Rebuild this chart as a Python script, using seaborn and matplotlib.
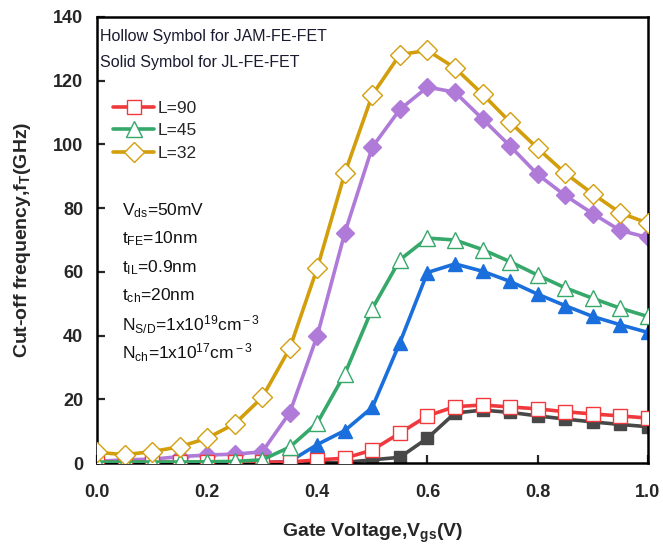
import numpy as np
import pandas as pd
import matplotlib
matplotlib.use("Agg")
import matplotlib.pyplot as plt
import seaborn as sns

sns.set_style("ticks")
plt.rcParams['font.family'] = ['Liberation Sans', 'DejaVu Sans']
plt.rcParams['mathtext.fontset'] = 'custom'
plt.rcParams['mathtext.rm'] = 'Liberation Sans'
plt.rcParams['mathtext.it'] = 'Liberation Sans'
plt.rcParams['mathtext.bf'] = 'Liberation Sans:bold'

vgs = [0.0, 0.05, 0.1, 0.15, 0.2, 0.25, 0.3, 0.35, 0.4, 0.45, 0.5,
       0.55, 0.6, 0.65, 0.7, 0.75, 0.8, 0.85, 0.9, 0.95, 1.0]

jam_90 = [0.3, 0.3, 0.3, 0.3, 0.3, 0.3, 0.3, 0.3, 1.0, 1.5, 4.1,
          9.4, 14.8, 17.7, 18.2, 17.6, 17.0, 16.1, 15.4, 14.8, 14.1]
jl_90 = [0.0, 0.0, 0.0, 0.0, 0.0, 0.0, 0.0, 0.0, 0.0, 0.2, 1.0,
         1.8, 7.8, 15.7, 16.6, 15.9, 14.8, 13.8, 12.9, 12.1, 11.4]
jam_45 = [0.3, 0.3, 0.3, 0.3, 0.4, 0.5, 1.0, 5.0, 12.6, 28.0, 48.5,
          63.8, 70.6, 70.0, 67.0, 63.2, 59.0, 55.0, 51.7, 48.6, 46.0]
jl_45 = [0.0, 0.0, 0.0, 0.0, 0.0, 0.0, 0.1, 0.5, 5.8, 10.2, 17.5,
         37.8, 59.8, 62.5, 60.2, 57.0, 53.0, 49.4, 46.0, 43.4, 41.0]
jam_32 = [3.4, 2.6, 3.6, 5.1, 7.8, 12.3, 20.6, 36.0, 61.2, 91.0, 115.6,
          128.2, 129.5, 124.0, 115.8, 107.0, 98.8, 91.0, 84.5, 78.5, 75.3]
jl_32 = [0.5, 1.0, 1.2, 2.0, 2.5, 2.8, 3.5, 15.8, 40.0, 72.3, 99.2,
         111.0, 118.0, 116.4, 108.0, 99.5, 90.6, 84.0, 78.3, 73.0, 70.8]

labels_L = ["L=90", "L=45", "L=32"]

c_red = "#f0393c"
c_green = "#35a86a"
c_gold = "#d39e0c"
c_purple = "#b07ad9"
c_blue = "#1a6fdc"
c_grey = "#484848"

fig = plt.figure(figsize=(6.63, 5.59), dpi=100)
ax = fig.add_axes([0.1463, 0.1717, 0.977 - 0.1463, 0.9696 - 0.1717])

lw = 2.6

def draw(y, color, marker, ms, hollow, label=None, z=2):
    df = pd.DataFrame({"x": vgs, "y": y})
    kw = dict(color=color, marker=marker, markersize=ms, linewidth=lw,
              markeredgecolor=color, zorder=z)
    if hollow:
        kw.update(markerfacecolor="white", markeredgewidth=1.0)
    else:
        kw.update(markerfacecolor=color, markeredgewidth=1.0)
    sns.lineplot(data=df, x="x", y="y", ax=ax, label=label, legend=False, **kw)

# solid (JL)
draw(jl_90, c_grey, "s", 9, False, z=2)
draw(jl_45, c_blue, "^", 10, False, z=2)
draw(jl_32, c_purple, "D", 9, False, z=2)
# hollow (JAM)
draw(jam_90, c_red, "s", 10, True, label=labels_L[0], z=3)
draw(jam_45, c_green, "^", 11, True, label=labels_L[1], z=3)
draw(jam_32, c_gold, "D", 10, True, label=labels_L[2], z=3)

ax.set_xlim(0, 1.0)
ax.set_ylim(0, 140)
ax.set_xticks([0.0, 0.2, 0.4, 0.6, 0.8, 1.0])
ax.set_yticks([0, 20, 40, 60, 80, 100, 120, 140])
ax.set_xticklabels(["0.0", "0.2", "0.4", "0.6", "0.8", "1.0"])
ax.tick_params(axis="both", direction="in", length=6, width=1.6,
               labelsize=13, top=False, right=False)
ax.tick_params(axis="x", pad=15)
ax.tick_params(axis="y", pad=10)
for lab in ax.get_xticklabels() + ax.get_yticklabels():
    lab.set_fontweight("bold")
for sp in ax.spines.values():
    sp.set_linewidth(1.8)
    sp.set_color("black")
    sp.set_visible(True)

ax.set_xlabel(r"Gate Voltage,V$_{\mathbf{gs}}$(V)", fontsize=14,
              fontweight="bold", labelpad=15)
ax.set_ylabel(r"Cut-off frequency,f$_{\mathbf{T}}$(GHz)", fontsize=14,
              fontweight="bold", labelpad=14)

handles, labs = ax.get_legend_handles_labels()
leg = ax.legend(handles, labs, loc="upper left", bbox_to_anchor=(0.016, 0.828),
                frameon=False, fontsize=12.5, handlelength=2.4,
                handletextpad=0.2, labelspacing=0.42, borderaxespad=0.0)

ax.text(0.006, 0.957, "Hollow Symbol for JAM-FE-FET", transform=ax.transAxes,
        fontsize=11.5, va="center", ha="left", color="#1a1a30")
ax.text(0.006, 0.897, "Solid Symbol for JL-FE-FET", transform=ax.transAxes,
        fontsize=11.5, va="center", ha="left", color="#1a1a30")

params = [r"V$_{\rm ds}$=50mV",
          r"t$_{\rm FE}$=10nm",
          r"t$_{\rm IL}$=0.9nm",
          r"t$_{\rm ch}$=20nm",
          r"N$_{\rm S/D}$=1x10$^{\rm 19}$cm$^{\rm -3}$",
          r"N$_{\rm ch}$=1x10$^{\rm 17}$cm$^{\rm -3}$"]
y0 = 0.566
for i, p in enumerate(params):
    ax.text(0.045, y0 - i * 0.0637, p, transform=ax.transAxes, fontsize=12.5,
            va="center", ha="left", color="#111111")

fig.savefig("out.png", dpi=100)
